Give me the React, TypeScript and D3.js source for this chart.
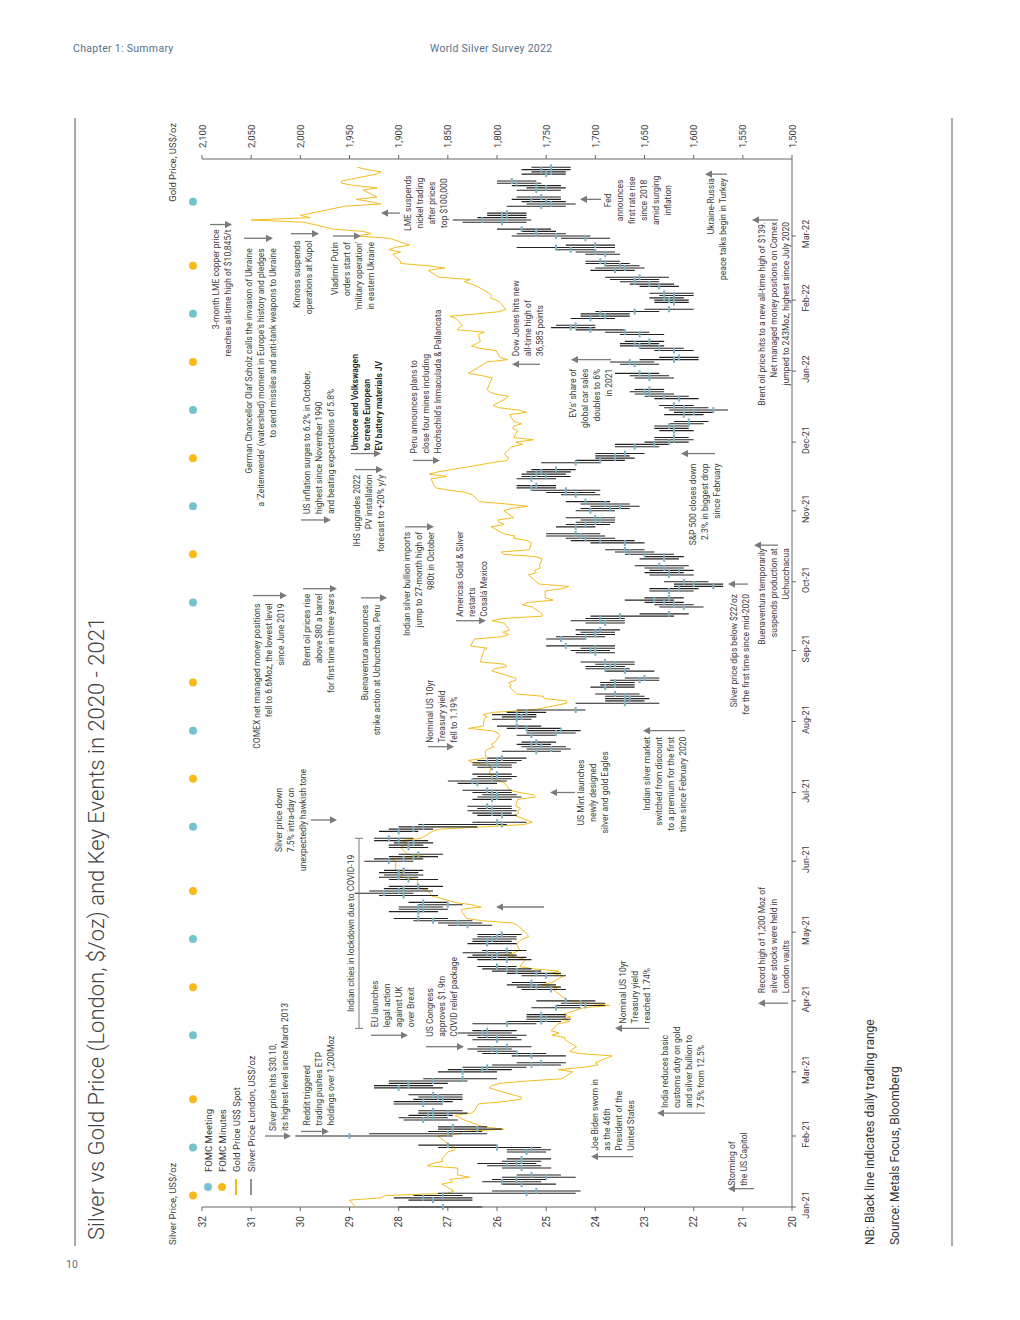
import React from "react";
import * as d3 from "d3";

const FONT = "Roboto, 'Liberation Sans', Arial, sans-serif";
const TEAL = "#74C2CC";
const ORANGE = "#F8B91C";
const GOLD_LINE = "#F2BC1F";
const TICK_TEAL = "#7DB1C4";
const ARROW = "#7a7a7a";
const TEXT = "#3c3c3c";

const MONTHS = ["2021-01", "2021-02", "2021-03", "2021-04", "2021-05", "2021-06", "2021-07", "2021-08", "2021-09", "2021-10", "2021-11", "2021-12", "2022-01", "2022-02", "2022-03"];
const MONTH_LABELS = ["Jan-21", "Feb-21", "Mar-21", "Apr-21", "May-21", "Jun-21", "Jul-21", "Aug-21", "Sep-21", "Oct-21", "Nov-21", "Dec-21", "Jan-22", "Feb-22", "Mar-22"];
const HOLIDAYS = ["2021-04-02", "2021-04-05", "2021-05-03", "2021-05-31", "2021-08-30", "2021-12-27", "2021-12-28", "2022-01-03"];
const SILVER_TICKS = [20, 21, 22, 23, 24, 25, 26, 27, 28, 29, 30, 31, 32];
const GOLD_TICKS = [1500, 1550, 1600, 1650, 1700, 1750, 1800, 1850, 1900, 1950, 2000, 2050, 2100];
const FOMC_MEETINGS = ["2021-01-27", "2021-03-17", "2021-04-28", "2021-06-16", "2021-07-28", "2021-09-22", "2021-11-03", "2021-12-15", "2022-01-26", "2022-03-16"];
const FOMC_MINUTES = ["2021-01-06", "2021-02-17", "2021-04-07", "2021-05-19", "2021-07-07", "2021-08-18", "2021-10-13", "2021-11-24", "2022-01-05", "2022-02-16"];

// silver daily [low, London price, high] per month of trading days
const silverDaily: number[][][] = [
  [[26.3,27.1,28.0],[26.5,27.3,27.8],[26.5,27.5,28.1],[26.7,27.1,27.7],[24.4,25.4,27.2],[24.3,25.2,26.1],[24.8,25.5,25.9],[25.1,25.9,26.3],[25.0,25.6,26.1],[24.4,25.0,25.9],[24.7,25.3,25.6],[24.9,25.5,25.9],[25.1,25.8,26.2],[25.2,25.6,26.4],[25.1,25.5,25.9],[24.9,25.5,25.8],[25.0,25.4,25.8],[24.9,25.3,25.8],[25.1,26.0,27.2],[26.0,27.0,27.6]],
  [[26.9,29.0,30.1],[26.2,27.0,28.6],[26.3,26.9,27.4],[25.9,26.4,27.2],[26.2,26.9,27.2],[26.8,27.5,27.9],[27.0,27.3,28.0],[26.9,27.4,27.8],[26.6,27.0,27.6],[26.7,27.3,27.6],[27.1,27.5,28.1],[26.9,27.5,28.1],[26.7,27.1,27.7],[26.7,27.2,27.6],[26.7,27.3,27.8],[27.1,28.0,28.5],[27.3,27.8,28.5],[27.0,27.8,28.2],[26.6,27.3,28.2],[26.0,26.7,27.5]],
  [[26.0,26.7,27.2],[25.7,26.3,27.0],[25.4,26.2,26.7],[24.7,25.3,26.1],[24.6,25.1,25.6],[24.6,25.3,25.7],[25.0,25.6,26.3],[25.6,26.0,26.4],[25.7,26.1,26.6],[25.3,25.8,26.4],[25.5,26.0,26.5],[25.6,26.0,26.4],[25.4,26.2,26.6],[25.7,26.3,26.8],[25.6,26.2,26.5],[25.2,25.8,26.5],[24.7,25.1,25.8],[24.5,25.0,25.4],[24.6,25.1,25.4],[24.6,25.1,25.4],[24.3,24.8,25.3],[23.8,24.2,24.8],[23.8,24.3,24.7]],
  [[24.0,24.6,25.2],[24.6,24.9,25.5],[24.7,25.2,25.6],[24.8,25.3,25.8],[25.0,25.3,25.7],[24.6,25.0,25.5],[24.7,25.2,25.8],[25.1,25.6,26.1],[25.3,25.8,26.3],[25.6,26.0,26.4],[25.3,25.8,26.4],[25.4,26.1,26.6],[25.6,26.0,26.5],[25.7,26.2,26.7],[25.4,25.8,26.3],[25.6,26.2,26.6],[25.7,26.2,26.5],[25.6,26.1,26.5],[25.6,26.0,26.4],[25.5,25.9,26.4]],
  [[26.1,26.6,27.0],[26.3,26.8,27.2],[26.5,27.3,27.7],[27.0,27.6,28.1],[27.2,27.6,28.2],[27.0,27.5,28.0],[27.1,27.6,28.0],[26.7,27.0,27.6],[27.0,27.5,27.8],[27.2,27.9,28.4],[27.7,28.3,28.9],[27.3,28.0,28.6],[27.4,27.9,28.3],[27.1,27.6,28.2],[27.2,27.8,28.2],[27.6,28.0,28.4],[27.5,28.0,28.3],[27.6,28.0,28.4],[27.5,27.9,28.3]],
  [[27.7,28.2,28.7],[27.5,27.9,28.5],[27.2,27.7,28.2],[27.1,27.6,28.0],[27.4,27.8,28.2],[27.5,27.8,28.2],[27.3,27.7,28.1],[27.4,28.0,28.5],[27.7,28.2,28.5],[27.6,28.0,28.4],[27.3,27.7,28.2],[26.4,27.5,28.0],[25.8,25.9,27.6],[25.4,26.0,26.5],[25.6,25.9,26.4],[25.7,26.1,26.5],[25.6,26.1,26.6],[25.7,26.1,26.4],[25.7,26.2,26.6],[25.7,26.1,26.5],[25.5,26.0,26.4],[25.6,26.0,26.3]],
  [[25.7,26.1,26.5],[25.7,26.2,26.7],[26.0,26.4,26.8],[25.8,26.5,27.0],[25.7,26.1,26.5],[25.6,26.0,26.4],[25.7,26.0,26.5],[25.7,26.1,26.4],[25.7,26.0,26.5],[25.6,26.2,26.5],[25.5,26.0,26.4],[25.4,25.9,26.2],[24.7,25.2,25.9],[24.5,24.9,25.4],[24.6,25.1,25.5],[24.9,25.3,25.6],[24.8,25.2,25.5],[24.8,25.3,25.6],[24.4,24.8,25.4],[24.3,24.7,25.4],[24.7,25.4,25.8],[25.1,25.6,26.0]],
  [[25.3,25.6,26.1],[25.2,25.5,25.9],[25.2,25.6,26.1],[25.0,25.4,25.8],[24.2,24.4,25.6],[22.7,23.4,24.4],[23.0,23.4,23.8],[22.9,23.3,23.8],[23.0,23.4,23.8],[23.1,23.6,24.0],[23.2,23.8,24.1],[23.2,23.6,23.9],[23.2,23.6,23.9],[22.7,23.1,23.7],[22.7,23.0,23.4],[22.8,23.4,23.8],[23.3,23.8,24.2],[23.4,23.7,24.2],[23.2,23.6,24.0],[23.2,23.8,24.3],[23.6,24.0,24.4]],
  [[23.7,24.1,24.5],[23.6,24.0,24.3],[23.6,24.6,25.0],[24.2,24.7,25.0],[23.8,24.2,24.8],[23.6,24.0,24.4],[23.6,24.0,24.3],[23.5,23.9,24.4],[23.4,23.8,24.2],[23.4,23.9,24.5],[23.4,23.9,24.2],[22.4,23.5,24.1],[22.1,22.5,23.1],[21.8,22.2,22.7],[22.0,22.4,22.8],[22.2,22.6,23.0],[22.4,22.8,23.4],[22.2,22.5,23.0],[22.0,22.5,22.9],[21.9,22.3,22.9],[21.4,21.6,22.4],[21.4,22.0,22.4]],
  [[21.7,22.2,22.6],[22.0,22.5,22.9],[22.2,22.5,23.0],[22.0,22.3,22.9],[22.2,22.6,23.0],[22.1,22.7,23.2],[22.3,22.6,23.1],[22.2,22.6,23.0],[22.4,23.0,23.4],[22.8,23.3,23.6],[23.0,23.4,23.8],[23.0,23.4,24.1],[23.2,23.9,24.5],[23.6,24.2,24.6],[23.8,24.3,25.0],[23.9,24.4,25.0],[24.0,24.4,24.8],[23.7,24.2,24.6],[23.6,24.0,24.4],[23.6,23.9,24.3],[23.6,24.0,24.6]],
  [[23.6,24.1,24.4],[23.3,23.7,24.3],[23.1,23.5,24.1],[23.3,23.8,24.3],[23.7,24.2,24.6],[23.9,24.4,24.7],[24.0,24.6,25.0],[23.9,24.6,25.3],[24.8,25.3,25.6],[24.8,25.2,25.6],[24.8,25.3,25.6],[24.5,25.0,25.5],[24.6,25.2,25.5],[24.5,25.1,25.4],[24.4,24.8,25.3],[23.9,24.4,25.1],[23.4,23.9,24.4],[23.2,23.6,24.0],[23.3,23.6,24.0],[23.0,23.4,24.0],[22.7,23.2,23.6],[22.5,22.8,23.6]],
  [[22.1,22.5,23.0],[22.0,22.4,22.8],[22.1,22.4,22.8],[22.0,22.4,22.7],[22.1,22.4,22.8],[22.1,22.5,22.8],[21.8,22.1,22.5],[21.7,22.1,22.4],[21.8,22.2,22.6],[21.6,22.0,22.4],[21.3,21.6,22.5],[21.7,22.2,22.6],[22.0,22.4,22.7],[21.9,22.3,22.8],[22.1,22.6,23.0],[22.4,22.9,23.2],[22.6,23.0,23.3],[22.6,22.9,23.2],[22.4,22.9,23.2],[22.5,22.9,23.3],[22.7,23.1,23.6]],
  [[22.7,23.2,23.5],[22.8,23.3,23.7],[21.9,22.4,23.1],[21.9,22.3,22.7],[22.0,22.4,22.8],[22.2,22.7,23.1],[22.6,23.1,23.5],[22.7,23.2,23.5],[22.6,22.9,23.4],[22.6,23.1,23.5],[22.9,23.4,23.8],[23.4,24.1,24.4],[24.0,24.5,24.9],[24.0,24.4,24.8],[23.6,24.1,24.5],[23.3,23.8,24.3],[23.3,23.9,24.3],[22.7,23.2,24.0],[22.0,22.5,23.0],[22.1,22.4,22.8]],
  [[22.1,22.5,22.8],[22.2,22.6,22.9],[22.0,22.4,22.7],[22.0,22.6,22.9],[22.3,22.7,23.1],[22.4,22.9,23.3],[22.7,23.2,23.5],[22.7,23.2,23.7],[22.5,23.1,23.8],[23.2,23.6,24.1],[23.0,23.4,24.0],[23.1,23.5,23.8],[23.3,23.8,24.2],[23.5,23.9,24.2],[23.5,23.8,24.2],[23.6,24.0,24.4],[24.0,24.5,24.8],[23.6,24.8,25.6],[23.6,24.0,24.6],[23.7,24.2,24.7]],
  [[24.1,24.8,25.7],[24.6,25.2,25.6],[24.8,25.2,25.5],[24.9,25.5,26.0],[25.4,25.9,26.7],[25.3,26.3,26.9],[25.4,25.8,26.4],[25.4,25.9,26.2],[25.4,25.8,26.2],[24.6,25.1,25.8],[24.4,24.9,25.4],[24.6,25.0,25.5],[24.7,25.3,25.7],[24.7,25.1,25.6],[24.7,25.2,25.6],[24.6,25.0,25.4],[24.7,25.2,25.7],[25.1,25.6,26.0],[25.2,25.7,26.0],[24.6,25.0,25.5],[24.6,24.9,25.3],[24.5,25.1,25.5],[24.5,24.9,25.3]],
];

// gold spot US$/oz per month of trading days
const goldSpot: number[][] = [
  [1944,1950,1918,1913,1850,1844,1856,1845,1848,1828,1840,1840,1871,1866,1855,1856,1850,1843,1843,1848],
  [1860,1838,1835,1793,1814,1833,1838,1843,1826,1823,1819,1794,1776,1775,1784,1808,1805,1797,1770,1734],
  [1723,1738,1712,1697,1700,1683,1716,1726,1723,1719,1731,1731,1744,1737,1745,1738,1726,1733,1725,1733,1712,1685,1707],
  [1728,1743,1737,1755,1744,1732,1745,1737,1763,1777,1771,1779,1793,1783,1777,1780,1777,1774,1768,1769],
  [1779,1784,1815,1831,1836,1836,1816,1826,1843,1867,1868,1870,1877,1881,1881,1898,1897,1895,1903],
  [1903,1908,1871,1891,1898,1893,1888,1898,1877,1866,1858,1813,1773,1764,1782,1778,1779,1776,1781,1779,1761,1763],
  [1777,1787,1792,1797,1803,1803,1808,1806,1808,1825,1829,1811,1812,1809,1803,1806,1802,1797,1799,1806,1829,1814],
  [1813,1810,1814,1804,1763,1729,1729,1752,1753,1780,1787,1786,1788,1781,1781,1805,1803,1790,1792,1817,1814],
  [1814,1810,1827,1823,1795,1788,1794,1787,1793,1805,1794,1754,1754,1764,1774,1768,1743,1751,1751,1734,1727,1757],
  [1760,1768,1760,1762,1756,1757,1754,1761,1793,1796,1767,1765,1769,1783,1782,1793,1806,1793,1798,1799,1783],
  [1793,1786,1769,1791,1818,1825,1832,1849,1862,1864,1867,1851,1869,1860,1846,1805,1790,1788,1791,1792,1785,1774],
  [1781,1763,1783,1779,1784,1783,1775,1783,1787,1770,1778,1798,1804,1791,1788,1802,1808,1810,1805,1815,1829],
  [1814,1810,1789,1797,1801,1818,1826,1821,1817,1819,1813,1840,1839,1835,1842,1848,1820,1797,1791,1797],
  [1801,1807,1805,1808,1820,1826,1833,1827,1859,1870,1853,1870,1898,1898,1906,1898,1910,1904,1889,1909],
  [1943,1928,1936,1966,1996,2050,1990,2000,1988,1955,1918,1929,1943,1922,1936,1922,1944,1958,1958,1923,1918,1932,1942],
];

type Ann = { lines: string[]; at: string; anchor?: "start" | "middle" | "end"; dx?: number; y0?: number; from: number; to: number; bold?: boolean };

const annotations: Ann[] = [
  { lines: ["Storming of", "the US Capitol"], at: "2021-01-09", anchor: "start", dx: 3, y0: 732, from: 754, to: 728 },
  { lines: ["Joe Biden sworn in", "as the 46th", "President of the", "United States"], at: "2021-01-23", anchor: "start", dx: 6, y0: 595, from: 633, to: 591 },
  { lines: ["India reduces basic", "customs duty on gold", "and silver bullion to", "7.5% from 12.5%"], at: "2021-02-11", anchor: "start", dx: 5, y0: 665, from: 705, to: 657 },
  { lines: ["Silver price hits $30.10,", "its highest level since March 2013"], at: "2021-02-01", anchor: "start", dx: 5, y0: 273, from: 265, to: 291 },
  { lines: ["Reddit triggered", "trading pushes ETP", "holdings over 1,200Moz"], at: "2021-02-03", anchor: "start", dx: 6, y0: 307, from: 301, to: 329 },
  { lines: ["EU launches", "legal action", "against UK", "over Brexit"], at: "2021-03-17", anchor: "start", dx: 8, y0: 375, from: 371, to: 408 },
  { lines: ["US Congress", "approves $1.9tn", "COVID relief package"], at: "2021-03-12", anchor: "start", dx: 10, y0: 430, from: 426, to: 464 },
  { lines: ["Nominal US 10yr", "Treasury yield", "reached 1.74%"], at: "2021-03-20", anchor: "start", dx: 5, y0: 623, from: 649, to: 615 },
  { lines: ["Record high of 1,200 Moz of", "silver stocks were held in", "London vaults"], at: "2021-03-31", anchor: "start", dx: 10, y0: 762, from: 788, to: 758 },
  { lines: [], at: "2021-05-12", from: 544, to: 496 },
  { lines: ["Silver price down", "7.5% intra-day on", "unexpectedly hawkish tone"], at: "2021-06-19", anchor: "middle", dx: 0, y0: 279, from: 311, to: 337 },
  { lines: ["US Mint launches", "newly designed", "silver and gold Eagles"], at: "2021-07-01", anchor: "middle", dx: 0, y0: 581, from: 575, to: 550 },
  { lines: ["Indian silver market", "switched from discount", "to a premium for the first", "time since February 2020"], at: "2021-07-28", anchor: "end", dx: -6, y0: 647, from: 685, to: 643 },
  { lines: ["Nominal US 10yr", "Treasury yield", "fell to 1.19%"], at: "2021-07-21", anchor: "start", dx: 4, y0: 430, from: 428, to: 454 },
  { lines: ["COMEX net managed money positions", "fell to 6.6Moz, the lowest level", "since June 2019"], at: "2021-09-25", anchor: "end", dx: -8, y0: 257, from: 253, to: 287 },
  { lines: ["Brent oil prices rise", "above $80 a barrel", "for first time in three years"], at: "2021-09-28", anchor: "end", dx: -5, y0: 307, from: 303, to: 337 },
  { lines: ["Buenaventura announces", "strike action at Uchucchacua, Peru"], at: "2021-09-24", anchor: "end", dx: -7, y0: 365, from: 361, to: 387 },
  { lines: ["Americas Gold & Silver", "restarts", "Cosalá Mexico"], at: "2021-09-14", anchor: "start", dx: 4, y0: 460, from: 456, to: 486 },
  { lines: ["Silver price dips below $22/oz", "for the first time since mid-2020"], at: "2021-09-30", anchor: "end", dx: -10, y0: 734, from: 748, to: 728 },
  { lines: ["Buenaventura temporarily", "suspends production at", "Uchucchacua"], at: "2021-10-17", anchor: "end", dx: -3, y0: 762, from: 778, to: 754 },
  { lines: ["Indian silver bullion imports", "jump to 27-month high of", "980t in October"], at: "2021-10-25", anchor: "end", dx: -5, y0: 407, from: 405, to: 434 },
  { lines: ["US inflation surges to 6.2% in October,", "highest since November 1990", "and beating expectations of 5.8%"], at: "2021-10-28", anchor: "start", dx: 6, y0: 307, from: 301, to: 331 },
  { lines: ["IHS upgrades 2022", "PV installation", "forecast to +20% y/y"], at: "2021-11-19", anchor: "end", dx: -5, y0: 357, from: 355, to: 383 },
  { lines: ["Umicore and Volkswagen", "to create European", "EV battery materials JV"], at: "2021-11-26", anchor: "start", dx: 3, y0: 355, from: 351, to: 381, bold: true },
  { lines: ["Peru announces plans to", "close four mines including", "Hochschild's Inmaculada & Pallancata"], at: "2021-11-23", anchor: "start", dx: 7, y0: 414, from: 413, to: 440 },
  { lines: ["S&P 500 closes down", "2.3% in biggest drop", "since February"], at: "2021-11-26", anchor: "end", dx: -10, y0: 693, from: 715, to: 681 },
  { lines: ["Dow Jones hits new", "all-time high of", "36,585 points"], at: "2022-01-04", anchor: "start", dx: 8, y0: 516, from: 540, to: 512 },
  { lines: ["EVs' share of", "global car sales", "doubles to 6%", "in 2021"], at: "2022-01-06", anchor: "end", dx: -9, y0: 573, from: 611, to: 571 },
  { lines: ["German Chancellor Olaf Scholz calls the invasion of Ukraine", "a 'Zeitenwende' (watershed) moment in Europe's history and pledges", "to send missiles and anti-tank weapons to Ukraine"], at: "2022-02-28", anchor: "end", dx: -10, y0: 249, from: 244, to: 273 },
  { lines: ["Kinross suspends", "operations at Kupol"], at: "2022-03-02", anchor: "end", dx: -7, y0: 297, from: 291, to: 319 },
  { lines: ["Vladimir Putin", "orders start of", "'military operation'", "in eastern Ukraine"], at: "2022-03-01", anchor: "end", dx: -6, y0: 335, from: 333, to: 361 },
  { lines: ["3-month LME copper price", "reaches all-time high of $10,845/t"], at: "2022-03-06", anchor: "end", dx: -5, y0: 216, from: 210, to: 232 },
  { lines: ["LME suspends", "nickel trading", "after prices", "top $100,000"], at: "2022-03-11", anchor: "middle", dx: 10, y0: 408, from: 400, to: 381 },
  { lines: ["Fed", "announces", "first rate rise", "since 2018", "amid surging", "inflation"], at: "2022-03-17", anchor: "middle", dx: -1, y0: 608, from: 601, to: 580 },
  { lines: ["Ukraine-Russia", "peace talks begin in Turkey"], at: "2022-03-28", anchor: "end", dx: -4, y0: 711, from: 727, to: 705 },
  { lines: ["Brent oil price hits to a new all-time high of $139.", "Net managed money positions on Comex", "jumped to 243Moz, highest since July 2020"], at: "2022-03-08", anchor: "end", dx: -2, y0: 762, from: 778, to: 752 },
];

const LOCKDOWN = { text: "Indian cities in lockdown due to COVID-19", from: "2021-03-20", to: "2021-06-11" };

function parseDay(s: string): Date {
  const [y, m, d] = s.split("-").map(Number);
  return new Date(y, m - 1, d || 1);
}
const fmtDay = d3.timeFormat("%Y-%m-%d");

type Row = { date: Date; lo: number; fix: number; hi: number; gold: number };

function buildRows(): Row[] {
  const hol = new Set(HOLIDAYS);
  const rows: Row[] = [];
  MONTHS.forEach((m, mi) => {
    const start = parseDay(m + "-01");
    const end = d3.timeMonth.offset(start, 1);
    const days = d3.timeDay.range(start, end).filter((d) => d.getDay() !== 0 && d.getDay() !== 6 && !hol.has(fmtDay(d)));
    days.forEach((d, i) => {
      const s = silverDaily[mi][i];
      const g = goldSpot[mi][i];
      if (s && g !== undefined) rows.push({ date: d, lo: s[0], fix: s[1], hi: s[2], gold: g });
    });
  });
  return rows;
}

function Arrow({ x, from, to }: { x: number; from: number; to: number }) {
  const s = to > from ? 1 : -1;
  const L = 7;
  return (
    <g>
      <line x1={x} x2={x} y1={from} y2={to - s * L} stroke={ARROW} strokeWidth={1.3} />
      <polygon points={`${x},${to} ${x - 3.6},${to - s * L} ${x + 3.6},${to - s * L}`} fill={ARROW} />
    </g>
  );
}

export default function App() {
  const rows = buildRows();
  const x = d3.scaleTime().domain([parseDay("2021-01-01"), parseDay("2022-04-01")]).range([113, 1155]);
  const ySilver = d3.scaleLinear().domain([20, 32]).range([792, 202]);
  const yGold = d3.scaleLinear().domain([1500, 2100]).range([792, 202]);
  const goldPath = d3.line<Row>().x((d) => x(d.date)).y((d) => yGold(d.gold))(rows) || "";
  const fmtGold = d3.format(",");
  const X0 = 113, X1 = 1161, YT = 202, YB = 792;

  return (
    <svg width={1020} height={1320} style={{ position: "absolute", left: 0, top: 0, background: "#fff" }} fontFamily={FONT}>
      {/* page header */}
      <text x={73} y={52} fontSize={10.5} fill="#57718a" letterSpacing={0.3}>Chapter 1: Summary</text>
      <text x={430} y={52} fontSize={10.5} fill="#57718a" letterSpacing={0.3}>World Silver Survey 2022</text>
      <line x1={75} x2={75} y1={118} y2={1246} stroke="#555" strokeWidth={1} />
      <line x1={952} x2={952} y1={118} y2={1246} stroke="#555" strokeWidth={1} />
      <text x={66} y={1268} fontSize={10.5} fill="#57718a">10</text>

      <g transform="translate(0,1320) rotate(-90)">
        {/* title */}
        <text x={80} y={104} fontSize={22} fontWeight={300} fill="#444">Silver vs Gold Price (London, $/oz) and Key Events in 2020 - 2021</text>

        {/* axis titles */}
        <text x={75} y={176} fontSize={9.5} fill={TEXT}>Silver Price, US$/oz</text>
        <text x={1197} y={176} fontSize={9.5} fill={TEXT} textAnchor="end">Gold Price, US$/oz</text>

        {/* silver axis */}
        <line x1={X0} x2={X0} y1={YT} y2={YB} stroke="#666" />
        {SILVER_TICKS.map((t) => (
          <g key={"s" + t}>
            <line x1={X0 - 4} x2={X0} y1={ySilver(t)} y2={ySilver(t)} stroke="#666" />
            <text x={X0 - 9} y={ySilver(t) + 3.5} fontSize={10} textAnchor="end" fill={TEXT}>{t}</text>
          </g>
        ))}
        {/* gold axis */}
        <line x1={X1} x2={X1} y1={YT} y2={YB} stroke="#666" />
        {GOLD_TICKS.map((t) => (
          <g key={"g" + t}>
            <line x1={X1} x2={X1 + 4} y1={yGold(t)} y2={yGold(t)} stroke="#666" />
            <text x={X1 + 11} y={yGold(t) + 3.5} fontSize={9.5} fill={TEXT}>{fmtGold(t)}</text>
          </g>
        ))}
        {/* time axis */}
        <line x1={X0} x2={X1} y1={YB} y2={YB} stroke="#666" />
        {MONTHS.map((m, i) => {
          const d = parseDay(m + "-01");
          return (
            <g key={m}>
              <line x1={x(d)} x2={x(d)} y1={YB} y2={YB + 4} stroke="#666" />
              <text x={x(d) + 2} y={YB + 17} fontSize={9} textAnchor="middle" fill={TEXT}>{MONTH_LABELS[i]}</text>
            </g>
          );
        })}

        {/* legend */}
        <circle cx={133} cy={208} r={4} fill={TEAL} />
        <text x={148} y={211.5} fontSize={9.5} fill={TEXT}>FOMC Meeting</text>
        <circle cx={133} cy={222} r={4} fill={ORANGE} />
        <text x={148} y={225.5} fontSize={9.5} fill={TEXT}>FOMC Minutes</text>
        <line x1={125} x2={141} y1={236} y2={236} stroke={GOLD_LINE} strokeWidth={2} />
        <text x={148} y={239.5} fontSize={9.5} fill={TEXT}>Gold Price US$ Spot</text>
        <line x1={125} x2={141} y1={251} y2={251} stroke="#222" strokeWidth={1} />
        <text x={148} y={254.5} fontSize={9.5} fill={TEXT}>Silver Price London, US$/oz</text>

        {/* FOMC dots */}
        {FOMC_MEETINGS.map((s) => <circle key={"m" + s} cx={x(parseDay(s))} cy={193} r={4} fill={TEAL} />)}
        {FOMC_MINUTES.map((s) => <circle key={"n" + s} cx={x(parseDay(s))} cy={193} r={4} fill={ORANGE} />)}

        {/* gold line */}
        <path d={goldPath} fill="none" stroke={GOLD_LINE} strokeWidth={1} />

        {/* silver daily ranges */}
        {rows.map((r, i) => (
          <line key={"b" + i} x1={x(r.date)} x2={x(r.date)} y1={ySilver(r.lo)} y2={ySilver(r.hi)} stroke="#222" strokeWidth={1.1} />
        ))}
        {rows.map((r, i) => (
          <line key={"t" + i} x1={x(r.date) - 3} x2={x(r.date) + 3} y1={ySilver(r.fix)} y2={ySilver(r.fix)} stroke={TICK_TEAL} strokeWidth={2} />
        ))}

        {/* lockdown bracket */}
        {(() => {
          const a = x(parseDay(LOCKDOWN.from));
          const b = x(parseDay(LOCKDOWN.to));
          return (
            <g>
              <line x1={a} x2={b} y1={359} y2={359} stroke={ARROW} strokeWidth={1} />
              <line x1={a} x2={a} y1={355} y2={363} stroke={ARROW} strokeWidth={1} />
              <line x1={b} x2={b} y1={355} y2={363} stroke={ARROW} strokeWidth={1} />
              <text x={(a + b) / 2} y={354} fontSize={8.5} textAnchor="middle" fill={TEXT}>{LOCKDOWN.text}</text>
            </g>
          );
        })()}

        {/* annotations */}
        {annotations.map((a, i) => {
          const ax = x(parseDay(a.at));
          return (
            <g key={"a" + i}>
              <Arrow x={ax} from={a.from} to={a.to} />
              {a.lines.map((ln, j) => (
                <text key={j} x={ax + (a.dx || 0)} y={(a.y0 || 0) + j * 12 + 3} fontSize={8.5} textAnchor={a.anchor || "start"} fill={a.bold ? "#222" : TEXT} fontWeight={a.bold ? 600 : 400}>{ln}</text>
              ))}
            </g>
          );
        })}

        {/* notes */}
        <text x={75} y={874} fontSize={12} fill="#333">NB: Black line indicates daily trading range</text>
        <text x={75} y={899} fontSize={12} fill="#333">Source: Metals Focus, Bloomberg</text>
      </g>
    </svg>
  );
}
